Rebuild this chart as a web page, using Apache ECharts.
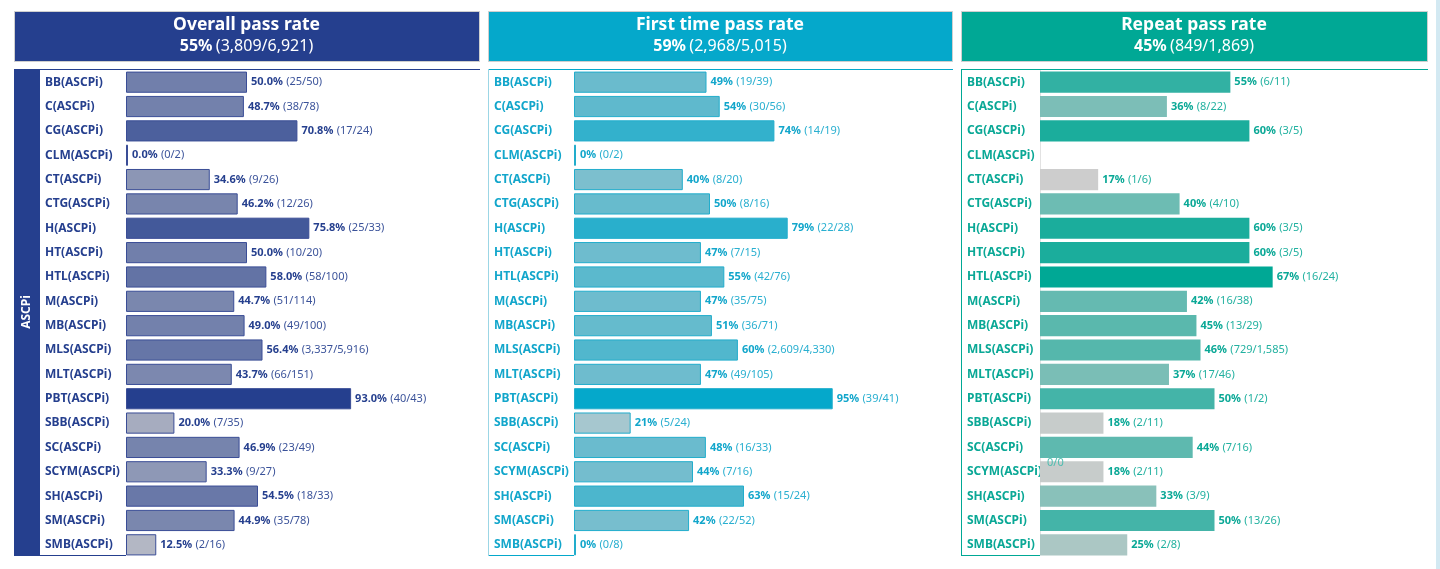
<!DOCTYPE html>
<html>
<head>
<meta charset="utf-8">
<title>Pass rate</title>
<script src="https://cdn.jsdelivr.net/npm/echarts@6/dist/echarts.min.js"></script>
<style>
  html, body { margin: 0; padding: 0; background: #fff; }
  #main { width: 1440px; height: 569px; }
</style>
</head>
<body>
<div id="main"></div>
<script>
  var categories = ['BB(ASCPi)', 'C(ASCPi)', 'CG(ASCPi)', 'CLM(ASCPi)', 'CT(ASCPi)', 'CTG(ASCPi)',
    'H(ASCPi)', 'HT(ASCPi)', 'HTL(ASCPi)', 'M(ASCPi)', 'MB(ASCPi)', 'MLS(ASCPi)', 'MLT(ASCPi)',
    'PBT(ASCPi)', 'SBB(ASCPi)', 'SC(ASCPi)', 'SCYM(ASCPi)', 'SH(ASCPi)', 'SM(ASCPi)', 'SMB(ASCPi)'];

  // passed / attempted per exam
  var overallPassed = [25, 38, 17, 0, 9, 12, 25, 10, 58, 51, 49, 3337, 66, 40, 7, 23, 9, 18, 35, 2];
  var overallTotal  = [50, 78, 24, 2, 26, 26, 33, 20, 100, 114, 100, 5916, 151, 43, 35, 49, 27, 33, 78, 16];
  var firstPassed   = [19, 30, 14, 0, 8, 8, 22, 7, 42, 35, 36, 2609, 49, 39, 5, 16, 7, 15, 22, 0];
  var firstTotal    = [39, 56, 19, 2, 20, 16, 28, 15, 76, 75, 71, 4330, 105, 41, 24, 33, 16, 24, 52, 8];
  var repeatPassed  = [6, 8, 3, 0, 1, 4, 3, 3, 16, 16, 13, 729, 17, 1, 2, 7, 2, 3, 13, 2];
  var repeatTotal   = [11, 22, 5, 0, 6, 10, 5, 5, 24, 38, 29, 1585, 46, 2, 11, 16, 11, 9, 26, 8];

  var headerTitles = ['Overall pass rate', 'First time pass rate', 'Repeat pass rate'];
  var headerPassed = [3809, 2968, 849];
  var headerTotal  = [6921, 5015, 1869];

  var panels = [
    { x: 14, w: 465, gridLeft: 126, gridW: 242, margin: 81, head: '#253F8E', text: '#253F8E',
      low: '#B3B7C4', high: '#253F8E', border: '#3A4D96', decimals: 1, passed: overallPassed, total: overallTotal },
    { x: 488, w: 464, gridLeft: 574, gridW: 272, margin: 80, head: '#05A8CB', text: '#12A6CB',
      low: '#A6C7CF', high: '#05A8CB', border: '#22ADCC', decimals: 0, passed: firstPassed, total: firstTotal },
    { x: 961, w: 466, gridLeft: 1040, gridW: 349, margin: 73, head: '#00A895', text: '#0AA896',
      low: '#CDCDCD', high: '#00A895', border: null, decimals: 0, passed: repeatPassed, total: repeatTotal }
  ];

  function hex(c) { return [parseInt(c.substr(1, 2), 16), parseInt(c.substr(3, 2), 16), parseInt(c.substr(5, 2), 16)]; }
  function mix(a, b, t) {
    var x = hex(a), y = hex(b);
    t = Math.max(0, Math.min(1, t));
    return 'rgb(' + x.map(function (v, i) { return Math.round(v + (y[i] - v) * t); }).join(',') + ')';
  }
  function fmt(n) { return n.toLocaleString('en-US'); }

  var grids = [], xAxes = [], yAxes = [], series = [], graphics = [];
  var gridTop = 70, gridHeight = 487;

  panels.forEach(function (p, k) {
    var rates = p.total.map(function (t, i) { return t === 0 ? '-' : p.passed[i] / t * 100; });
    var nonZero = rates.filter(function (r) { return r !== '-' && r > 0; });
    var lo = Math.min.apply(null, nonZero), hi = Math.max.apply(null, nonZero);

    grids.push({ left: p.gridLeft, top: gridTop, width: p.gridW, height: gridHeight });
    xAxes.push({ gridIndex: k, type: 'value', min: 0, max: 100, show: false });
    yAxes.push({
      gridIndex: k, type: 'category', data: categories, inverse: true,
      axisLine: { show: false }, axisTick: { show: false }, splitLine: { show: false },
      axisLabel: { align: 'left', margin: p.margin, color: p.text, fontWeight: 'bold', fontSize: 12, fontFamily: 'Noto Sans' }
    });
    series.push({
      type: 'bar', xAxisIndex: k, yAxisIndex: k,
      data: rates, barCategoryGap: '13%', barMinHeight: 2,
      itemStyle: {
        color: function (d) { return mix(p.low, p.high, (d.value - lo) / (hi - lo)); },
        borderColor: p.border || 'transparent', borderWidth: p.border ? 1 : 0
      },
      label: {
        show: true, position: 'right', distance: 4,
        formatter: function (d) {
          var pct = p.decimals ? d.value.toFixed(1) : Math.round(d.value);
          return '{b|' + pct + '%} {n|(' + fmt(p.passed[d.dataIndex]) + '/' + fmt(p.total[d.dataIndex]) + ')}';
        },
        rich: {
          b: { color: p.text, fontWeight: 'bold', fontSize: 11, fontFamily: 'Noto Sans' },
          n: { color: p.text, fontSize: 11, fontFamily: 'Noto Sans', opacity: 0.9 }
        }
      },
      animation: false
    });

    // header box
    graphics.push({
      type: 'rect', shape: { x: p.x + 0.5, y: 11.5, width: p.w, height: 50 },
      style: { fill: p.head, stroke: '#CFCFCF', lineWidth: 1 }
    });
    graphics.push({
      type: 'text', x: p.x + p.w / 2, y: 25,
      style: { text: headerTitles[k], fill: '#fff', font: 'bold 17.5px "Noto Sans"', align: 'center', verticalAlign: 'middle' }
    });
    var hp = Math.round(headerPassed[k] / headerTotal[k] * 100);
    graphics.push({
      type: 'text', x: p.x + p.w / 2, y: 46,
      style: {
        text: '{b|' + hp + '%} {n|(' + fmt(headerPassed[k]) + '/' + fmt(headerTotal[k]) + ')}',
        align: 'center', verticalAlign: 'middle',
        rich: {
          b: { fill: '#fff', fontWeight: 'bold', fontSize: 16, fontFamily: 'Noto Sans' },
          n: { fill: '#fff', fontSize: 16, fontFamily: 'Noto Sans' }
        }
      }
    });
    // body frame
    graphics.push({ type: 'line', shape: { x1: p.x, y1: 69.5, x2: p.x + p.w + 1, y2: 69.5 }, style: { stroke: p.head, lineWidth: 1 } });
    graphics.push({ type: 'line', shape: { x1: p.x, y1: 555.5, x2: p.gridLeft, y2: 555.5 }, style: { stroke: p.head, lineWidth: 1 } });
  });

  // panel 1 side band
  graphics.push({ type: 'rect', shape: { x: 14, y: 69, width: 26, height: 487 }, style: { fill: '#253F8E' } });
  graphics.push({
    type: 'text', x: 27, y: 312, rotation: Math.PI / 2,
    style: { text: 'ASCPi', fill: '#fff', font: 'bold 12px "Noto Sans"', align: 'center', verticalAlign: 'middle' }
  });
  // panel 2 / 3 left borders
  graphics.push({ type: 'line', shape: { x1: 488.5, y1: 69, x2: 488.5, y2: 556 }, style: { stroke: '#9CD6E5', lineWidth: 1 } });
  graphics.push({ type: 'line', shape: { x1: 961.5, y1: 69, x2: 961.5, y2: 556 }, style: { stroke: '#00A895', lineWidth: 1 } });
  graphics.push({ type: 'line', shape: { x1: 1040.5, y1: 70, x2: 1040.5, y2: 555 }, style: { stroke: '#E2E2E2', lineWidth: 1 } });
  // stray label in repeat panel
  graphics.push({
    type: 'text', x: 1047, y: 463, z: 100,
    style: { text: '0/0', fill: '#4DBDB0', font: '11px "Noto Sans"', align: 'left', verticalAlign: 'middle' }
  });
  // right edge strip
  graphics.push({ type: 'rect', shape: { x: 1436, y: 0, width: 4, height: 569 }, style: { fill: '#D3E9F2' } });

  var chart = echarts.init(document.getElementById('main'));
  chart.setOption({
    backgroundColor: '#fff',
    animation: false,
    grid: grids,
    xAxis: xAxes,
    yAxis: yAxes,
    series: series,
    graphic: graphics
  });
</script>
</body>
</html>
